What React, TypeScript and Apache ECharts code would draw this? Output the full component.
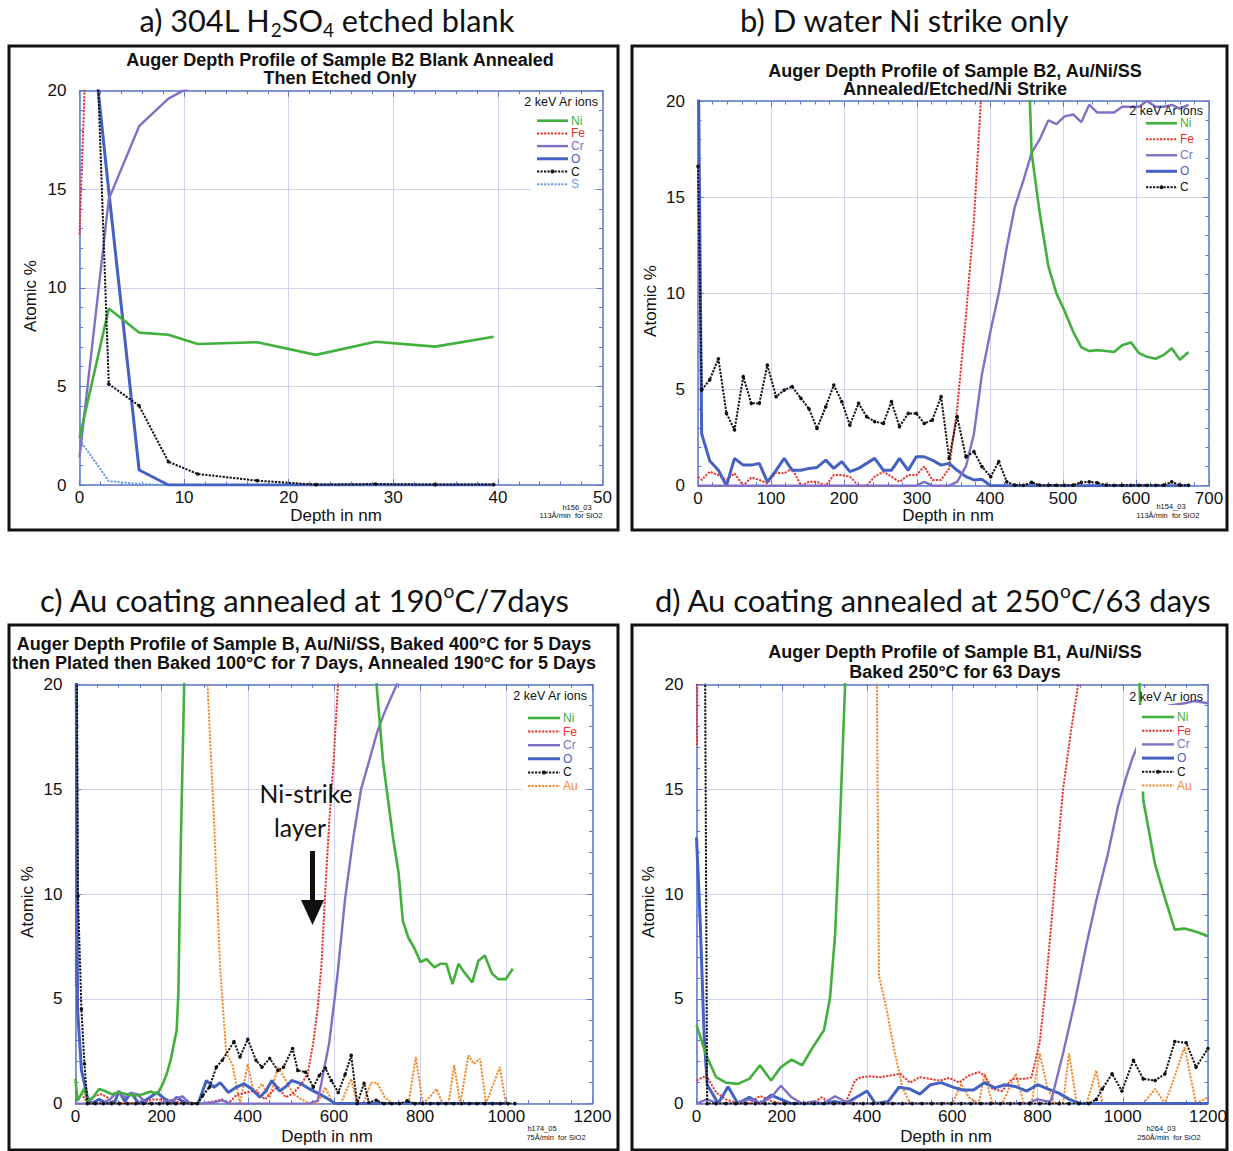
import React, { useEffect, useRef } from 'react';
import * as echarts from 'echarts';

// ---------------- DATA ----------------
// Panel a) depth (nm) and atomic %
const aDepth = [0, 2.8, 5.7, 8.5, 11.3, 17.0, 22.6, 28.3, 34.0, 39.6];
const aNi = [2.4, 8.95, 7.73, 7.62, 7.15, 7.24, 6.6, 7.27, 7.02, 7.52];
const aFe = [12.7, 55, 64, 67, 68, 69, 69, 70, 70, 70];
const aCr = [1.4, 14.5, 18.2, 19.6, 20.4, 20.8, 20.9, 21.0, 21.0, 21.1];
const aO = [29, 14.9, 0.76, 0, 0, 0, 0, 0, 0, 0];
const aC = [47, 5.12, 4.02, 1.18, 0.56, 0.22, 0.02, 0.05, 0.02, 0.02];
const aS = [2.3, 0.2, 0.05, 0, 0, 0, 0, 0, 0, 0];

// Panel b)
const bDepth = [0, 5, 16, 28, 39, 50, 62, 73, 84, 95, 107, 118, 129, 141, 152, 163, 175, 186, 197, 208, 220, 231, 242, 254, 265, 276, 288, 299, 310, 321, 333, 344, 355, 367, 378, 389, 401, 412, 423, 434, 446, 457, 468, 480, 491, 502, 514, 525, 536, 547, 559, 570, 581, 593, 604, 615, 627, 638, 649, 660, 672];
const bC = [16.6, 4.97, 5.5, 6.6, 3.76, 2.9, 5.67, 4.28, 4.28, 6.27, 4.63, 4.97, 5.15, 4.54, 4.0, 2.98, 4.1, 5.23, 4.37, 3.15, 4.28, 3.59, 3.33, 3.24, 4.37, 3.07, 3.76, 3.76, 3.24, 3.41, 4.63, 1.42, 3.59, 1.5, 1.77, 0.99, 0.47, 1.25, 0.2, 0.03, 0.02, 0.17, 0.03, 0.02, 0.02, 0.02, 0.03, 0.17, 0.2, 0.15, 0.03, 0.02, 0.02, 0.02, 0.02, 0.02, 0.02, 0.03, 0.2, 0.03, 0.02];
const bO = [24, 2.7, 1.3, 0.8, 0, 1.42, 1.07, 1.07, 1.16, 0.2, 0.8, 1.42, 0.8, 0.8, 0.9, 0.95, 1.33, 0.9, 1.25, 0.73, 0.9, 1.16, 1.42, 0.8, 0.8, 1.42, 0.8, 1.5, 1.5, 1.33, 1.07, 1.16, 0.8, 0.47, 0.3, 0.33, 0, 0, 0, 0, 0, 0, 0, 0, 0, 0, 0, 0, 0, 0, 0, 0, 0, 0, 0, 0, 0, 0, 0, 0, 0];
const bFe = [0.47, 0.3, 0.73, 0.55, 0.3, 0.64, 0, 0.43, 0.3, 0.12, 0.68, 0.64, 0.9, 0, 0.2, 0.2, 0, 0.55, 0.55, 0.47, 0, 0, 0.47, 0.73, 0.47, 0.2, 0.55, 0.55, 1.0, 0.3, 0.3, 0.9, 4.0, 8.8, 13.8, 21, 30, 40, 48, 55, 60, 63, 65, 66, 67, 68, 68, 69, 69, 69, 70, 70, 70, 70, 70, 70, 70, 70, 70, 70, 70];
const bCr = [0, 0, 0, 0, 0, 0, 0, 0, 0, 0, 0, 0, 0, 0, 0, 0, 0, 0, 0, 0, 0, 0, 0, 0, 0, 0, 0, 0, 0.2, 0, 0, 0, 0.2, 1.0, 2.7, 5.8, 8.1, 10, 12.4, 14.5, 15.9, 17.3, 18, 19, 18.8, 19.2, 19.3, 18.9, 19.8, 19.4, 19.4, 19.4, 19.7, 19.7, 19.7, 20, 19.7, 19.7, 19.8, 19.6, 19.8];
const bNi = [62, 80, 86, 88, 89, 90, 90, 91, 91, 91, 91, 92, 92, 92, 92, 92, 92, 92, 92, 92, 92, 92, 92, 92, 92, 92, 92, 92, 91, 91, 90, 89, 87, 84, 80, 75, 62, 52, 44, 38, 30, 17.3, 14.2, 11.4, 10.0, 9.1, 8.0, 7.2, 7.0, 7.05, 7.0, 6.95, 7.3, 7.45, 6.9, 6.7, 6.6, 6.8, 7.15, 6.55, 6.95];

// Panel c)
const cNiX = [0, 5, 20, 29, 41, 55, 69, 83, 101, 120, 138, 157, 175, 190, 203, 212, 221, 235, 239, 244, 253, 265, 300, 400, 500, 600, 680, 698, 714, 737, 750, 760, 773, 787, 801, 815, 833, 847, 861, 875, 889, 902, 921, 935, 950, 967, 981, 999, 1015];
const cNiY = [1.18, 0.13, 0.7, 0.1, 0.3, 0.7, 0.6, 0.45, 0.53, 0.45, 0.37, 0.45, 0.58, 0.45, 0.94, 1.42, 2.07, 3.5, 5.3, 11.8, 20.5, 45, 80, 90, 90, 85, 40, 20.2, 16.3, 12.7, 11, 8.7, 7.9, 7.4, 6.75, 6.9, 6.5, 6.67, 6.67, 5.7, 6.67, 6.27, 5.78, 6.8, 7.07, 6.2, 5.94, 5.94, 6.43];
const cFeX = [1, 2, 2, 14, 28, 46, 60, 74, 92, 120, 150, 180, 216, 250, 290, 320, 340, 355, 373, 391, 410, 424, 440, 455, 470, 488, 506, 525, 539, 552, 562, 571, 580, 589, 599, 610, 625];
const cFeY = [5.6, 21, null, 0.5, 0, 0.37, 0.45, 0.3, 0, 0, 0, 0.2, 0.2, 0, 0, 0.1, 0.2, 0, 0.4, 0.5, 0.6, 0.53, 0.2, 0.55, 0.8, 0.3, 0.5, 0.94, 1.42, 2.9, 4.5, 6.6, 10.2, 13.4, 16.3, 20.2, 28];
const cCX = [0, 6, 14, 21, 28, 46, 65, 84, 102, 121, 140, 158, 177, 195, 214, 233, 251, 270, 283, 295, 311, 327, 341, 368, 382, 400, 419, 433, 451, 470, 483, 504, 516, 534, 552, 566, 580, 594, 610, 626, 640, 654, 670, 681, 698, 716, 734, 752, 770, 788, 806, 824, 842, 860, 878, 896, 914, 932, 950, 968, 986, 1004, 1020];
const cCY = [35, 9.9, 4.5, 1.9, 0, 0, 0, 0, 0, 0, 0, 0, 0, 0, 0, 0, 0, 0, 0, 0.37, 0.78, 1.74, 2.07, 2.96, 2.23, 3.07, 2.07, 1.74, 2.15, 1.58, 1.74, 2.63, 1.58, 1.5, 0.78, 1.34, 1.7, 1.1, 0.53, 1.4, 2.3, 0, 0.97, 0.05, 0.16, 0, 0, 0, 0.13, 0, 0, 0, 0, 0, 0, 0, 0, 0, 0, 0, 0, 0, 0];
const cAuX = [0, 100, 200, 290, 306, 322, 336, 350, 364, 382, 400, 414, 433, 451, 470, 488, 506, 525, 543, 561, 580, 598, 616, 640, 654, 668, 686, 700, 718, 736, 754, 773, 790, 806, 822, 838, 852, 866, 879, 893, 912, 925, 939, 953, 967, 985, 999];
const cAuY = [70, 88, 92, 50, 20.2, 13.4, 6.4, 2.4, 1.9, 0, 1.9, 0.45, 0.94, 0.3, 1.74, 1.1, 0.45, 0.2, 0, 0, 0.78, 0, 0, 1.18, 0, 0, 1.0, 1.0, 0.3, 0, 0, 0, 2.23, 0, 0.3, 0.7, 0, 0, 1.83, 0, 2.3, 1.9, 2.15, 0, 0.78, 1.74, 0];
const cCrX = [0, 28, 60, 80, 97, 115, 130, 144, 165, 190, 215, 248, 267, 290, 320, 340, 360, 400, 450, 500, 540, 562, 571, 589, 608, 626, 645, 663, 681, 700, 718, 732, 746, 764, 800, 900, 1000];
const cCrY = [0, 0, 0, 0.2, 0.55, 0.3, 0.5, 0.45, 0, 0, 0.1, 0.35, 0, 0, 0.05, 0.15, 0, 0, 0, 0, 0, 0.13, 1.0, 2.9, 6.1, 9.8, 12.7, 15.0, 16.3, 17.7, 18.7, 19.35, 20.0, 20.6, 21, 21, 21];
const cOX = [0, 5, 14, 28, 37, 55, 74, 92, 101, 115, 129, 147, 166, 189, 203, 221, 235, 249, 267, 285, 304, 322, 336, 355, 373, 391, 410, 428, 442, 456, 474, 488, 502, 525, 543, 562, 580, 603, 630, 700, 800, 900, 1000];
const cOY = [30, 4.5, 1.6, 0.3, 0, 0.2, 0, 0.1, 0.6, 0.1, 0.53, 0, 0.2, 0.53, 0.3, 0, 0.3, 0.1, 0, 0, 1.1, 0.78, 1.0, 0.53, 0.78, 0.94, 0.7, 0.3, 0.6, 1.1, 0.6, 0.8, 1.1, 0.94, 0.7, 0.5, 0.3, 0, 0, 0, 0, 0, 0];

// Panel d)
const dNiX = [0, 23, 46, 69, 97, 124, 149, 175, 198, 223, 248, 271, 299, 313, 325, 336, 349, 372, 500, 700, 900, 1020, 1039, 1048, 1076, 1099, 1122, 1145, 1172, 1200];
const dNiY = [3.76, 2.3, 1.26, 1.0, 0.94, 1.18, 1.83, 1.1, 1.74, 2.1, 1.83, 2.63, 3.5, 5.0, 8.0, 13.1, 20.2, 50, 85, 90, 80, 40, 20.2, 14.5, 11.4, 9.8, 8.3, 8.35, 8.2, 8.0];
const dFeX = [1, 2, 2, 0, 23, 46, 69, 97, 124, 149, 175, 198, 223, 248, 271, 294, 318, 349, 372, 386, 409, 432, 455, 478, 501, 524, 547, 570, 593, 616, 639, 662, 676, 694, 717, 740, 772, 786, 805, 818, 832, 846, 860, 878, 897, 920];
const dFeY = [17.1, 21, null, 1.1, 1.34, 0.53, 0.2, 0, 0, 0.37, 0.13, 0, 0, 0, 0, 0.3, 0, 0, 1.1, 1.26, 1.3, 1.26, 1.34, 1.42, 1.0, 1.26, 1.18, 1.1, 1.23, 1.0, 1.34, 1.5, 1.34, 0.7, 0.6, 1.18, 1.18, 1.26, 2.9, 5.3, 8.5, 11.8, 15, 17.7, 20.2, 30];
const dCrX = [0, 25, 51, 74, 97, 124, 149, 175, 198, 223, 248, 273, 298, 325, 349, 375, 400, 500, 600, 700, 775, 800, 824, 832, 860, 887, 915, 938, 965, 989, 1007, 1023, 1050, 1080, 1110, 1145, 1168, 1200];
const dCrY = [0, 0.2, 0, 0, 0, 0.2, 0, 0.3, 0.85, 0.3, 0, 0.1, 0, 0.35, 0.1, 0, 0, 0, 0, 0, 0, 0.2, 0.1, 0.13, 2.4, 4.8, 7.6, 9.7, 11.9, 14.2, 15.5, 16.5, 17.8, 18.6, 19.0, 19.1, 19.2, 19.1];
const dOX = [0, 9, 18, 25, 51, 74, 97, 124, 149, 175, 198, 223, 248, 273, 298, 325, 349, 375, 400, 420, 450, 475, 500, 524, 549, 574, 600, 624, 650, 675, 700, 724, 750, 775, 800, 824, 850, 875, 900, 1000, 1100, 1200];
const dOY = [12.7, 8.5, 3.2, 0.9, 0, 0.8, 0, 0.3, 0, 0.4, 0.2, 0, 0, 0, 0, 0.1, 0, 0.3, 0.6, 0, 0.1, 0.78, 0.7, 0.45, 0.9, 1.0, 0.8, 0.65, 0.65, 1.0, 0.75, 0.9, 0.8, 0.6, 0.9, 0.7, 0.5, 0.2, 0, 0, 0, 0];
const dCX = [0, 18, 25, 46, 69, 92, 115, 138, 161, 184, 207, 230, 253, 276, 299, 322, 345, 368, 391, 414, 437, 460, 483, 506, 529, 552, 575, 598, 621, 644, 667, 690, 713, 736, 759, 782, 805, 828, 851, 874, 897, 920, 938, 952, 975, 998, 1025, 1048, 1076, 1099, 1122, 1149, 1172, 1200];
const dCY = [40, 30, 0, 0, 0, 0, 0, 0, 0, 0, 0, 0, 0, 0, 0, 0, 0, 0, 0, 0, 0, 0, 0, 0, 0, 0, 0, 0, 0, 0, 0, 0, 0, 0, 0, 0, 0, 0, 0, 0, 0, 0, 0.2, 0.7, 1.42, 0.6, 2.07, 1.18, 1.1, 1.42, 2.96, 2.9, 1.74, 2.63];
const dAuX = [0, 100, 200, 300, 400, 423, 428, 446, 464, 483, 501, 520, 540, 556, 580, 600, 621, 639, 662, 676, 694, 717, 749, 768, 786, 805, 823, 841, 860, 874, 892, 915, 938, 952, 975, 998, 1020, 1048, 1076, 1099, 1122, 1145, 1172, 1200];
const dAuY = [80, 85, 90, 90, 60, 20.5, 6.1, 4.5, 2.55, 0.78, 0, 0, 0, 0, 0, 0, 0.94, 0.3, 0, 1.42, 0, 0, 1.42, 0, 0, 2.4, 0.78, 0, 0, 2.4, 0, 0, 1.58, 0, 0, 0, 0, 0, 0.7, 0, 1.3, 2.7, 0, 0.3];

// Series per panel (drawing order)
const SERIES: any[] = [
  [['S', aDepth, aS], ['Fe', aDepth, aFe], ['O', aDepth, aO], ['Cr', aDepth, aCr], ['Ni', aDepth, aNi], ['C', aDepth, aC]],
  [['Fe', bDepth, bFe], ['O', bDepth, bO], ['Cr', bDepth, bCr], ['Ni', bDepth, bNi], ['C', bDepth, bC]],
  [['Au', cAuX, cAuY], ['Fe', cFeX, cFeY], ['O', cOX, cOY], ['Cr', cCrX, cCrY], ['Ni', cNiX, cNiY], ['C', cCX, cCY]],
  [['Au', dAuX, dAuY], ['Fe', dFeX, dFeY], ['O', dOX, dOY], ['Cr', dCrX, dCrY], ['Ni', dNiX, dNiY], ['C', dCX, dCY]],
];

// Texts
const HEADERS: any[] = [
  [['a) 304L H', 0], ['2', -1], ['SO', 0], ['4', -1], [' etched blank', 0]],
  [['b) D water Ni strike only', 0]],
  [['c) Au coating annealed at 190', 0], ['o', 1], ['C/7days', 0]],
  [['d) Au coating annealed at 250', 0], ['o', 1], ['C/63 days', 0]],
];
const TITLES = [
  ['Auger Depth Profile of Sample B2 Blank Annealed', 'Then Etched Only'],
  ['Auger Depth Profile of Sample B2, Au/Ni/SS', 'Annealed/Etched/Ni Strike'],
  ['Auger Depth Profile of Sample B, Au/Ni/SS, Baked 400°C for 5 Days', 'then Plated then Baked 100°C for 7 Days, Annealed 190°C for 5 Days'],
  ['Auger Depth Profile of Sample B1, Au/Ni/SS', 'Baked 250°C for 63 Days'],
];
const NOTE_IDS = ['h156_03', 'h154_03', 'h174_05', 'h264_03'];
const NOTE_RATES = ['113Å/min  for SiO2', '113Å/min  for SiO2', '75Å/min  for SiO2', '250Å/min  for SiO2'];
const LEGENDS = [
  ['Ni', 'Fe', 'Cr', 'O', 'C', 'S'],
  ['Ni', 'Fe', 'Cr', 'O', 'C'],
  ['Ni', 'Fe', 'Cr', 'O', 'C', 'Au'],
  ['Ni', 'Fe', 'Cr', 'O', 'C', 'Au'],
];
const LEGEND_TITLE = '2 keV Ar ions';
const X_NAME = 'Depth in nm';
const Y_NAME = 'Atomic %';
const ANNOT = ['Ni-strike', 'layer'];

// ---------------- STYLE / LAYOUT ----------------
const FONT = '"Liberation Sans", Arial, Helvetica, sans-serif';
const HFONT = 'Lato, "Open Sans", sans-serif';
const FRAME = '#6178cc';
const GRIDC = '#cdd3f1';
const COLORS: any = { Ni: '#42b03c', Fe: '#e8352b', Cr: '#8070c6', O: '#4562c2', C: '#111111', S: '#6d9de0', Au: '#f28a2e' };
const DOT = [2.2, 1.3];
const STYLE: any = {
  Ni: { width: 2.6, dash: 'solid' },
  Fe: { width: 2, dash: DOT },
  Cr: { width: 2.4, dash: 'solid' },
  O: { width: 3, dash: 'solid' },
  C: { width: 2, dash: DOT, symbol: true },
  S: { width: 2, dash: DOT },
  Au: { width: 2, dash: DOT },
};

const LAYOUT: any[] = [
  {
    box: [9, 46, 618, 530], plot: [79.5, 90.7, 602.5, 485], xMax: 50, xInt: 10, xMinor: 5,
    head: { cx: 327, w: 375, y: 20 }, title: { cx: 340, y: [60, 78] },
    notes: { x: [577, 571], y: [507, 515] },
    legend: { titleR: 598, titleY: 102, y0: 120.7, dy: 12.7, lx1: 537, lx2: 568, tx: 571 },
    yName: { x: 30, y: 296 }, xName: { x: 336, y: 515 },
  },
  {
    box: [632, 46, 1227, 530], plot: [698, 101, 1209, 485.7], xMax: 700, xInt: 100, xMinor: 5,
    head: { cx: 905, w: 330, y: 20 }, title: { cx: 955, y: [71, 89] },
    notes: { x: [1171, 1168], y: [506, 515] },
    legend: { titleR: 1203, titleY: 111, y0: 123.3, dy: 16, lx1: 1146, lx2: 1177, tx: 1180 },
    yName: { x: 650, y: 301 }, xName: { x: 948, y: 515 },
  },
  {
    box: [9, 625, 618, 1150], plot: [75.4, 684.4, 592.5, 1103.6], xMax: 1200, xInt: 200, xMinor: 4,
    head: { cx: 304.5, w: 529, y: 600 }, title: { cx: 304, y: [643.7, 663.4] },
    notes: { x: [542, 556], y: [1128, 1137] },
    legend: { titleR: 587, titleY: 696, y0: 718, dy: 13.6, lx1: 528, lx2: 560, tx: 563 },
    yName: { x: 27, y: 902 }, xName: { x: 327, y: 1136 },
  },
  {
    box: [632, 625, 1227, 1150], plot: [696.5, 684.4, 1208, 1103.6], xMax: 1200, xInt: 200, xMinor: 4,
    head: { cx: 933, w: 556, y: 600 }, title: { cx: 955, y: [652, 671.5] },
    notes: { x: [1161, 1169], y: [1128, 1137] },
    legend: { titleR: 1203, titleY: 697, y0: 717, dy: 13.7, lx1: 1142, lx2: 1174, tx: 1177 },
    yName: { x: 648, y: 902 }, xName: { x: 946, y: 1136 },
  },
];

const ANNOT_LAYOUT = { x: [306, 300], y: [793, 827], w: 93, arrowX: 312.5, shaftTop: 851, headTop: 900, tip: 925, headHalf: 11.5, shaftW: 5 };

// ---------------- helpers ----------------
let ctx: any = null;
function tw(text: string, size: number, family: string, weight = 'normal') {
  if (!ctx) ctx = document.createElement('canvas').getContext('2d');
  ctx.font = `${weight} ${size}px ${family}`;
  return ctx.measureText(text).width;
}

function txt(x: number, y: number, text: string, o: any = {}) {
  const align = o.align || 'center';
  const va = o.va || 'middle';
  return {
    type: 'text', x, y, z: o.z ?? 100, rotation: o.rotation || 0, silent: true,
    style: {
      text, fill: o.color || '#111', fontSize: o.size || 12, fontFamily: o.family || FONT,
      fontWeight: o.weight || 'normal', align, verticalAlign: va, textAlign: align, textVerticalAlign: va,
    },
  };
}

function headerEls(pieces: any[], cx: number, targetW: number, yC: number) {
  const base = 30;
  const fac = (k: number) => (k === 0 ? 1 : 0.62);
  let w = 0;
  pieces.forEach(([t, k]: any) => { w += tw(t, base * fac(k), HFONT); });
  const F = (base * targetW) / w;
  let x = cx - targetW / 2;
  const els: any[] = [];
  pieces.forEach(([t, k]: any) => {
    const fs = F * fac(k);
    const yy = k === 0 ? yC : k < 0 ? yC + 0.3 * F : yC - 0.3 * F;
    let s = t;
    let xx = x;
    if (s.startsWith(' ')) { xx += tw(' ', fs, HFONT); s = s.trimStart(); }
    els.push(txt(xx, yy, s, { align: 'left', size: fs, family: HFONT }));
    x += tw(t, fs, HFONT);
  });
  return els;
}

function buildOption() {
  const grid: any[] = [], xAxis: any[] = [], yAxis: any[] = [], series: any[] = [], els: any[] = [];
  const tick = { show: true, inside: true, length: 6, lineStyle: { color: FRAME, width: 1 } };
  const line = { show: true, onZero: false, lineStyle: { color: FRAME, width: 1.5 } };
  const lab = { fontSize: 17, color: '#111', fontFamily: FONT, showMinLabel: true, showMaxLabel: true, formatter: (v: number) => String(v) };

  LAYOUT.forEach((L, i) => {
    const [l, t, r, b] = L.plot;
    grid.push({ left: l, top: t, width: r - l, height: b - t, containLabel: false });
    const xBase = { type: 'value', gridIndex: i, min: 0, max: L.xMax, interval: L.xInt, axisLine: line, axisTick: tick,
      minorTick: { show: true, splitNumber: L.xMinor, length: 3.5, lineStyle: { color: FRAME, width: 1 } } };
    xAxis.push({ ...xBase, position: 'bottom', axisLabel: { ...lab, margin: 4 },
      splitLine: { show: true, lineStyle: { color: GRIDC, width: 1 } } });
    xAxis.push({ ...xBase, position: 'top', axisLabel: { show: false }, splitLine: { show: false } });
    const yBase = { type: 'value', gridIndex: i, min: 0, max: 20, interval: 5, axisLine: line, axisTick: tick,
      minorTick: { show: true, splitNumber: 5, length: 3.5, lineStyle: { color: FRAME, width: 1 } } };
    yAxis.push({ ...yBase, position: 'left', axisLabel: { ...lab, margin: 13 },
      splitLine: { show: true, lineStyle: { color: GRIDC, width: 1 } } });
    yAxis.push({ ...yBase, position: 'right', axisLabel: { show: false }, splitLine: { show: false } });

    SERIES[i].forEach(([name, xs, ys]: any) => {
      const st = STYLE[name];
      series.push({
        type: 'line', name, xAxisIndex: 2 * i, yAxisIndex: 2 * i,
        data: xs.map((x: number, k: number) => [x, ys[k] === null ? '-' : ys[k]]),
        symbol: st.symbol ? 'circle' : 'none', symbolSize: 3.6, showSymbol: !!st.symbol, showAllSymbol: true,
        itemStyle: { color: COLORS[name] },
        lineStyle: { color: COLORS[name], width: st.width, type: st.dash },
        clip: true, connectNulls: false, silent: true, emphasis: { disabled: true }, z: 2,
      });
    });

    // panel frame
    const [bx1, by1, bx2, by2] = L.box;
    els.push({ type: 'rect', z: 100, silent: true, shape: { x: bx1, y: by1, width: bx2 - bx1, height: by2 - by1 },
      style: { fill: 'none', stroke: '#111', lineWidth: 3 } });
    // header
    els.push(...headerEls(HEADERS[i], L.head.cx, L.head.w, L.head.y));
    // title
    TITLES[i].forEach((s, k) => els.push(txt(L.title.cx, L.title.y[k], s, { size: 18, weight: 'bold' })));
    // axis names
    els.push(txt(L.xName.x, L.xName.y, X_NAME, { size: 17 }));
    els.push(txt(L.yName.x, L.yName.y, Y_NAME, { size: 17, rotation: Math.PI / 2 }));
    // notes
    els.push(txt(L.notes.x[0], L.notes.y[0], NOTE_IDS[i], { size: 7.5 }));
    els.push(txt(L.notes.x[1], L.notes.y[1], NOTE_RATES[i], { size: 7.5 }));
    // legend
    const G = L.legend;
    const names = LEGENDS[i];
    const lastY = G.y0 + G.dy * (names.length - 1);
    els.push({ type: 'rect', z: 90, silent: true,
      shape: { x: G.lx1 - 6, y: G.titleY + 8, width: Math.min(G.tx + 22, L.plot[2] - 9) - (G.lx1 - 6), height: lastY + 6 - (G.titleY + 8) },
      style: { fill: '#ffffff', stroke: 'none' } });
    els.push(txt(G.titleR, G.titleY, LEGEND_TITLE, { size: 12.5, align: 'right' }));
    names.forEach((n: string, k: number) => {
      const y = G.y0 + G.dy * k;
      const st = STYLE[n];
      els.push({ type: 'line', z: 100, silent: true, shape: { x1: G.lx1, y1: y, x2: G.lx2, y2: y },
        style: { stroke: COLORS[n], lineWidth: st.width, lineDash: Array.isArray(st.dash) ? st.dash : null } });
      if (st.symbol) {
        els.push({ type: 'circle', z: 101, silent: true, shape: { cx: (G.lx1 + G.lx2) / 2, cy: y, r: 2 }, style: { fill: COLORS[n] } });
      }
      els.push(txt(G.tx, y, n, { size: 12, align: 'left', color: COLORS[n] }));
    });
  });

  // annotation in panel c
  const A = ANNOT_LAYOUT;
  const fs = (30 * A.w) / tw(ANNOT[0], 30, HFONT);
  els.push(txt(A.x[0], A.y[0], ANNOT[0], { size: fs, family: HFONT }));
  els.push(txt(A.x[1], A.y[1], ANNOT[1], { size: fs, family: HFONT }));
  els.push({ type: 'rect', z: 100, silent: true, shape: { x: A.arrowX - A.shaftW / 2, y: A.shaftTop, width: A.shaftW, height: A.headTop - A.shaftTop + 2 },
    style: { fill: '#111' } });
  els.push({ type: 'polygon', z: 100, silent: true,
    shape: { points: [[A.arrowX - A.headHalf, A.headTop], [A.arrowX + A.headHalf, A.headTop], [A.arrowX, A.tip]] },
    style: { fill: '#111' } });

  return {
    animation: false,
    backgroundColor: '#ffffff',
    grid, xAxis, yAxis, series,
    graphic: { elements: els },
  };
}

export default function App() {
  const ref = useRef<HTMLDivElement>(null);
  useEffect(() => {
    document.body.style.margin = '0';
    const chart = echarts.init(ref.current as HTMLDivElement, null, { renderer: 'svg', width: 1233, height: 1151 });
    chart.setOption(buildOption() as any);
    return () => chart.dispose();
  }, []);
  return <div ref={ref} style={{ width: 1233, height: 1151, background: '#fff' }} />;
}
